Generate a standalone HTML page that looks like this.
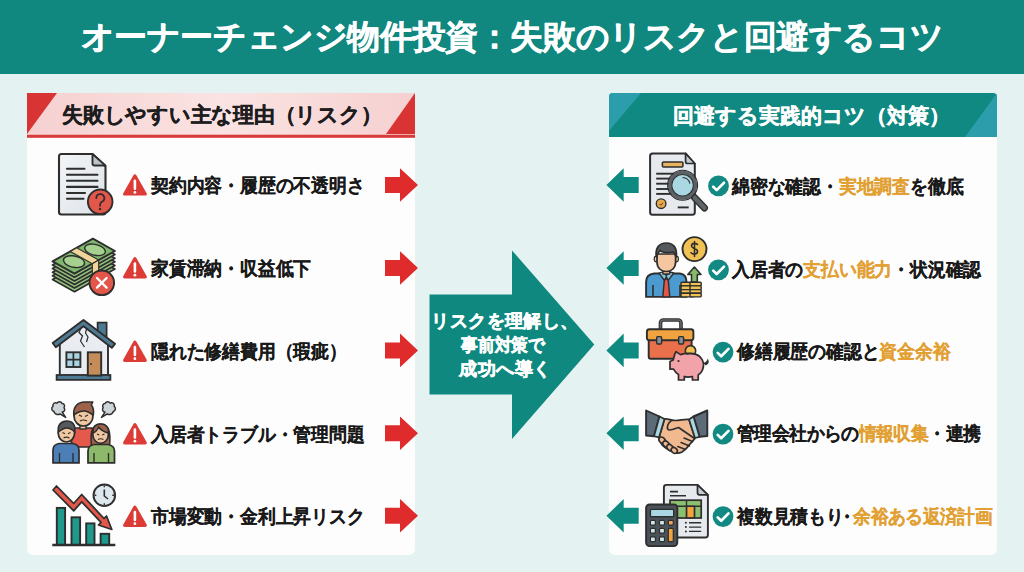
<!DOCTYPE html>
<html><head><meta charset="utf-8">
<style>
*{margin:0;padding:0;box-sizing:border-box}
html,body{width:1024px;height:572px;overflow:hidden}
body{position:relative;background:#e4f2f2;font-family:"Liberation Sans",sans-serif;font-weight:700;color:#191919}
.abs{position:absolute}
#hdr{left:0;top:0;width:1024px;height:73.5px;background:#10877f}
#title{left:0;top:-0.5px;width:1024px;height:74px;line-height:74px;text-align:center;color:#fff;font-size:33px;letter-spacing:-0.4px;white-space:nowrap;-webkit-text-stroke:0.5px #fff}
.card{background:#fdfdfd;border-radius:6px}
.t{position:absolute;white-space:nowrap;font-size:19px;line-height:20px;transform-origin:0 0;transform:scaleX(0.937);-webkit-text-stroke:0.15px currentColor}
.o{color:#e2a032}
</style></head><body>
<div id="hdr" class="abs"></div>
<div id="title" class="abs">オーナーチェンジ物件投資：失敗のリスクと回避するコツ</div>

<div class="abs card" style="left:27px;top:93px;width:388px;height:461.5px"></div>
<div class="abs card" style="left:609px;top:93px;width:388px;height:462px"></div>

<!-- left header -->
<svg class="abs" style="left:27px;top:93px" width="388" height="46">
<defs><linearGradient id="pg" x1="0" x2="1" y1="0" y2="0"><stop offset="0" stop-color="#f6d0d0"/><stop offset="0.5" stop-color="#fbe3e3"/><stop offset="1" stop-color="#f6d0d0"/></linearGradient></defs>
<rect x="0" y="0" width="388" height="41" fill="url(#pg)"/>
<rect x="0" y="41.6" width="388" height="3.2" fill="#d93a3a"/>
<polygon points="0,0 30,0 0,41" fill="#d83434"/>
<polygon points="388,0 388,41 359,41" fill="#d83434"/>
</svg>
<div class="abs" style="left:62px;top:104px;font-size:21px;line-height:22px;white-space:nowrap;letter-spacing:-0.25px;-webkit-text-stroke:0.4px #1e1e1e">失敗しやすい主な理由（リスク）</div>

<!-- right header -->
<svg class="abs" style="left:609px;top:93px" width="388" height="44">
<clipPath id="rc"><rect x="0" y="0" width="388" height="50" rx="4"/></clipPath><g clip-path="url(#rc)"><rect x="0" y="0" width="388" height="44" fill="#0f8981"/>
<polygon points="0,0 32,0 0,38" fill="#2c9daa"/>
<polygon points="388,0 388,44 356,44" fill="#2c9daa"/></g>
</svg>
<div class="abs" style="left:672.5px;top:105px;font-size:21px;line-height:22px;white-space:nowrap;color:#fff;letter-spacing:0px;-webkit-text-stroke:0.5px #fff">回避する実践的コツ（対策）</div>

<!-- center arrow -->
<svg class="abs" style="left:0;top:0" width="1024" height="572">
<polygon points="429.5,294.5 512,294.5 512,250.4 594.3,344.5 512,439 512,394.5 429.5,394.5" fill="#0f8980"/>
</svg>
<div class="abs" style="left:402px;top:308.5px;width:200px;text-align:center;color:#fff;font-size:18px;line-height:24px;white-space:nowrap;-webkit-text-stroke:0.5px #fff"><span style="letter-spacing:0.45px;margin-left:6px">リスクを理解し、</span><br><span style="display:inline-block;transform:scaleX(0.928);margin-left:1px">事前対策で</span><br><span style="letter-spacing:0.5px;margin-left:7px">成功へ導く</span></div>

<svg class="abs" style="left:0;top:0" width="1024" height="572"><polygon points="385,177 400,177 400,168.2 418,185 400,201.8 400,193 385,193" fill="#df2b2b"/><polygon points="606.4,185 623.7,168.2 623.7,177 638.7,177 638.7,193 623.7,193 623.7,201.8" fill="#0f8a81"/><polygon points="385,260 400,260 400,251.2 418,268 400,284.8 400,276 385,276" fill="#df2b2b"/><polygon points="606.4,268 623.7,251.2 623.7,260 638.7,260 638.7,276 623.7,276 623.7,284.8" fill="#0f8a81"/><polygon points="385,342.4 400,342.4 400,333.59999999999997 418,350.4 400,367.2 400,358.4 385,358.4" fill="#df2b2b"/><polygon points="606.4,350.4 623.7,333.59999999999997 623.7,342.4 638.7,342.4 638.7,358.4 623.7,358.4 623.7,367.2" fill="#0f8a81"/><polygon points="385,425.3 400,425.3 400,416.5 418,433.3 400,450.1 400,441.3 385,441.3" fill="#df2b2b"/><polygon points="606.4,433.3 623.7,416.5 623.7,425.3 638.7,425.3 638.7,441.3 623.7,441.3 623.7,450.1" fill="#0f8a81"/><polygon points="385,507.79999999999995 400,507.79999999999995 400,498.99999999999994 418,515.8 400,532.5999999999999 400,523.8 385,523.8" fill="#df2b2b"/><polygon points="606.4,515.8 623.7,498.99999999999994 623.7,507.79999999999995 638.7,507.79999999999995 638.7,523.8 623.7,523.8 623.7,532.5999999999999" fill="#0f8a81"/><path d="M133.3,175.39999999999998 Q134.9,173.2 136.5,175.39999999999998 L146.6,193.2 Q147.5,195.6 145,195.6 L124.9,195.6 Q122.4,195.6 123.3,193.2 Z" fill="#dc3b36"/><path d="M134.9,180.7 V188.7" stroke="#fff" stroke-width="2.6" stroke-linecap="round"/><circle cx="134.9" cy="192.39999999999998" r="1.4" fill="#fff"/><path d="M133.3,258.2 Q134.9,256 136.5,258.2 L146.6,276 Q147.5,278.4 145,278.4 L124.9,278.4 Q122.4,278.4 123.3,276 Z" fill="#dc3b36"/><path d="M134.9,263.5 V271.5" stroke="#fff" stroke-width="2.6" stroke-linecap="round"/><circle cx="134.9" cy="275.2" r="1.4" fill="#fff"/><path d="M133.3,341.7 Q134.9,339.5 136.5,341.7 L146.6,359.5 Q147.5,361.9 145,361.9 L124.9,361.9 Q122.4,361.9 123.3,359.5 Z" fill="#dc3b36"/><path d="M134.9,347.0 V355.0" stroke="#fff" stroke-width="2.6" stroke-linecap="round"/><circle cx="134.9" cy="358.7" r="1.4" fill="#fff"/><path d="M133.3,424.2 Q134.9,422 136.5,424.2 L146.6,442 Q147.5,444.4 145,444.4 L124.9,444.4 Q122.4,444.4 123.3,442 Z" fill="#dc3b36"/><path d="M134.9,429.5 V437.5" stroke="#fff" stroke-width="2.6" stroke-linecap="round"/><circle cx="134.9" cy="441.2" r="1.4" fill="#fff"/><path d="M133.3,506.7 Q134.9,504.5 136.5,506.7 L146.6,524.5 Q147.5,526.9 145,526.9 L124.9,526.9 Q122.4,526.9 123.3,524.5 Z" fill="#dc3b36"/><path d="M134.9,512.0 V520.0" stroke="#fff" stroke-width="2.6" stroke-linecap="round"/><circle cx="134.9" cy="523.7" r="1.4" fill="#fff"/><circle cx="718.5" cy="185.9" r="10.4" fill="#128a83"/><path d="M713.2,186.70000000000002 L716.7,190.1 L724.0,182.70000000000002" fill="none" stroke="#fff" stroke-width="2.7" stroke-linecap="round" stroke-linejoin="round"/><circle cx="718.5" cy="269.8" r="10.4" fill="#128a83"/><path d="M713.2,270.6 L716.7,274.0 L724.0,266.6" fill="none" stroke="#fff" stroke-width="2.7" stroke-linecap="round" stroke-linejoin="round"/><circle cx="723" cy="352.1" r="10.4" fill="#128a83"/><path d="M717.7,352.90000000000003 L721.2,356.3 L728.5,348.90000000000003" fill="none" stroke="#fff" stroke-width="2.7" stroke-linecap="round" stroke-linejoin="round"/><circle cx="723" cy="434.1" r="10.4" fill="#128a83"/><path d="M717.7,434.90000000000003 L721.2,438.3 L728.5,430.90000000000003" fill="none" stroke="#fff" stroke-width="2.7" stroke-linecap="round" stroke-linejoin="round"/><circle cx="723" cy="516.6" r="10.4" fill="#128a83"/><path d="M717.7,517.4 L721.2,520.8000000000001 L728.5,513.4" fill="none" stroke="#fff" stroke-width="2.7" stroke-linecap="round" stroke-linejoin="round"/></svg>
<svg class="abs" style="left:50px;top:148px" width="70" height="70" viewBox="0 0 70 70">
<defs><linearGradient id="dg1" x1="0" y1="0" x2="1" y2="1"><stop offset="0" stop-color="#f3f5f7"/><stop offset="1" stop-color="#dde3e8"/></linearGradient></defs>
<path d="M11.5,6 H42.5 L55.5,18.5 V64 a2.5,2.5 0 0 1 -2.5,2.5 H11.5 a2.5,2.5 0 0 1 -2.5,-2.5 V8.5 a2.5,2.5 0 0 1 2.5,-2.5 Z" fill="url(#dg1)" stroke="#2e2e2e" stroke-width="2.09" stroke-linejoin="round"/>
<path d="M42.5,6 V15.5 a2,2 0 0 0 2,2 H55.5 Z" fill="#b9c3cc" stroke="#2e2e2e" stroke-width="1.91" stroke-linejoin="round"/>
<g stroke="#2e2e2e" stroke-width="2.09" stroke-linecap="round">
<line x1="17" y1="20.8" x2="34.5" y2="20.8"/>
<line x1="17" y1="26.7" x2="47.5" y2="26.7"/>
<line x1="17" y1="32.8" x2="47.5" y2="32.8"/>
<line x1="17" y1="38.9" x2="47.5" y2="38.9"/>
<line x1="17" y1="45" x2="35" y2="45"/>
<line x1="17" y1="50.8" x2="33.5" y2="50.8"/>
</g>
<circle cx="50.2" cy="53.8" r="12.3" fill="#e2574a" stroke="#2e2e2e" stroke-width="1.91"/>
<path d="M46.3,50.2 a4,4 0 1 1 5.6,3.6 c-1.4,0.8 -1.9,1.6 -1.9,3.2 v0.8" fill="none" stroke="#2e2e2e" stroke-width="1.74" stroke-linecap="round"/>
<circle cx="50" cy="61" r="1.2" fill="#2e2e2e"/>
</svg>
<div class="t" style="left:150.6px;top:176.0px">契約内容・履歴の不透明さ</div>
<svg class="abs" style="left:48px;top:232px" width="70" height="70" viewBox="0 0 70 70">
<path d="M4.5,47.4 L44.9,24.7 L66.9,37.0 L26.5,59.7 Z" fill="#93c47e" stroke="#2e2e2e" stroke-width="1.74" stroke-linejoin="round"/><path d="M4.5,43.8 L44.9,21.1 L66.9,33.4 L26.5,56.1 Z" fill="#93c47e" stroke="#2e2e2e" stroke-width="1.74" stroke-linejoin="round"/><path d="M4.5,40.2 L44.9,17.5 L66.9,29.8 L26.5,52.5 Z" fill="#93c47e" stroke="#2e2e2e" stroke-width="1.74" stroke-linejoin="round"/><path d="M4.5,36.6 L44.9,13.9 L66.9,26.2 L26.5,48.900000000000006 Z" fill="#93c47e" stroke="#2e2e2e" stroke-width="1.74" stroke-linejoin="round"/><path d="M4.5,33.0 L44.9,10.3 L66.9,22.6 L26.5,45.300000000000004 Z" fill="#93c47e" stroke="#2e2e2e" stroke-width="1.74" stroke-linejoin="round"/>
<path d="M4.5,29.4 L44.9,6.7 L66.9,19 L26.5,41.7 Z" fill="#7fb76c" stroke="#2e2e2e" stroke-width="1.91" stroke-linejoin="round"/>
<g transform="matrix(0.404,-0.227,0.22,0.123,4.5,29.4)" fill="#a6d08e" stroke="#2e2e2e" stroke-width="1.39" vector-effect="non-scaling-stroke">
<ellipse vector-effect="non-scaling-stroke" cx="26" cy="50" rx="16" ry="38"/>
<ellipse vector-effect="non-scaling-stroke" cx="78" cy="50" rx="15" ry="38"/>
<path vector-effect="non-scaling-stroke" d="M44,0 H60 V100 H44 Z" fill="#f1d49a" stroke-width="1.13"/>
</g>
<path d="M44.3,31.7 L50.7,28.1 L50.7,45 L44.3,48.6 Z" fill="#f1d49a" stroke="#2e2e2e" stroke-width="1.13" stroke-linejoin="round"/>
<circle cx="53.8" cy="50.8" r="12.3" fill="#e2574a" stroke="#2e2e2e" stroke-width="1.91"/>
<path d="M49,46 L58.6,55.6 M58.6,46 L49,55.6" stroke="#fff" stroke-width="2.26" stroke-linecap="round"/>
</svg>
<div class="t" style="left:150.6px;top:259.0px">家賃滞納・収益低下</div>
<svg class="abs" style="left:48px;top:315px" width="70" height="70" viewBox="0 0 70 70">
<rect x="49.6" y="7.6" width="9" height="14" fill="#4d7a92" stroke="#2e2e2e" stroke-width="1.74"/>
<path d="M11.8,27 L35.5,9 L60,27 V60.5 H11.8 Z" fill="#e9edf1" stroke="#2e2e2e" stroke-width="1.91"/>
<path d="M4.7,28 L35.5,4.9 L67,28.8 L63.8,32.8 L35.5,11.3 L7.8,32.2 Z" fill="#4d7a92" stroke="#2e2e2e" stroke-width="1.91" stroke-linejoin="round"/>
<rect x="8.6" y="60" width="53.8" height="4.9" fill="#4d7a92" stroke="#2e2e2e" stroke-width="1.74"/>
<rect x="18.4" y="37.3" width="14" height="14.7" fill="#a9d5e2" stroke="#2e2e2e" stroke-width="1.91"/>
<path d="M25.4,37.3 V52 M18.4,44.6 H32.4" stroke="#2e2e2e" stroke-width="1.74"/>
<rect x="39.8" y="37.3" width="13.4" height="23.3" fill="#c38c58" stroke="#2e2e2e" stroke-width="1.91"/>
<circle cx="43" cy="49" r="1" fill="#2e2e2e"/>
<path d="M33,13 L31,17.5 L34.5,21 L32.5,26 L36.5,32" fill="none" stroke="#2e2e2e" stroke-width="1.22"/>
<path d="M38.5,14 L37.5,18 L40,22 L38.5,27" fill="none" stroke="#2e2e2e" stroke-width="1.22"/>
</svg>
<div class="t" style="left:150.6px;top:342.0px">隠れた修繕費用（瑕疵）</div>
<svg class="abs" style="left:48px;top:398px" width="70" height="70" viewBox="0 0 70 70">
<!-- smoke puffs -->
<path d="M6,13.5 c-2.5,-0.5 -3,-4 -1,-5.2 c-0.8,-2.5 2,-4.5 4,-3.2 c1.2,-2 4.5,-2 5.2,0.5 c2.2,0 3,2.6 1.8,4.2 c1.5,1.5 0.5,4.5 -1.8,4.3 l3.5,5.3 l-5.8,-3.5 c-1.5,1.2 -4.2,0.8 -5.5,-1.2 Z" fill="#cdd5d9" stroke="#2e2e2e" stroke-width="1.48" stroke-linejoin="round"/>
<path d="M6,13.5 c-2.5,-0.5 -3,-4 -1,-5.2 c-0.8,-2.5 2,-4.5 4,-3.2 c1.2,-2 4.5,-2 5.2,0.5 c2.2,0 3,2.6 1.8,4.2 c1.5,1.5 0.5,4.5 -1.8,4.3 l3.5,5.3 l-5.8,-3.5 c-1.5,1.2 -4.2,0.8 -5.5,-1.2 Z" transform="translate(71.2,0) scale(-1,1)" fill="#cdd5d9" stroke="#2e2e2e" stroke-width="1.48" stroke-linejoin="round"/>
<!-- center man -->
<path d="M23.5,49 V35 a4,4 0 0 1 4,-5 H43.5 a4,4 0 0 1 2,5 V49 Z" fill="#e4594b" stroke="#2e2e2e" stroke-width="1.74"/>
<rect x="32" y="25" width="6" height="6" fill="#f1c7a2" stroke="#2e2e2e" stroke-width="1.39"/>
<ellipse cx="35.5" cy="18" rx="9.5" ry="10" fill="#f1c7a2" stroke="#2e2e2e" stroke-width="1.74"/>
<path d="M25.8,17 c-1,-8 4,-13 11,-13 h8 l-1.5,3 c2,2 2.5,6 2,10 c-3,-2 -6,-4 -9,-4 c-4,0 -8,2 -10.5,4 Z" fill="#9d624a" stroke="#2e2e2e" stroke-width="1.57" stroke-linejoin="round"/>
<path d="M31,17 l3,1.5 M40,17 l-3,1.5 M32,23 q3.5,-2 7,0" stroke="#2e2e2e" stroke-width="1.22" fill="none"/>
<!-- left man -->
<path d="M5,64.8 V52 c0,-4 3,-6 6,-6.5 h14 c3,0.5 6,2.5 6,6.5 V64.8 Z" fill="#4c7fb6" stroke="#2e2e2e" stroke-width="1.74"/>
<path d="M11.5,55 V64.8 M25,55 V64.8" stroke="#2e2e2e" stroke-width="1.39"/>
<ellipse cx="18.4" cy="35" rx="8.2" ry="9" fill="#f1c7a2" stroke="#2e2e2e" stroke-width="1.74"/>
<path d="M10.3,34 c-1,-7 3,-11 8.5,-11 c5,0 9,3 8,11 c-2,-2 -5,-4 -8,-4 c-3,0 -6,2 -8.5,4 Z" fill="#55595d" stroke="#2e2e2e" stroke-width="1.57"/>
<path d="M14.5,34.5 l2.5,1.2 M22.5,34.5 l-2.5,1.2 M15.5,40 q3,-1.8 6,0" stroke="#2e2e2e" stroke-width="1.13" fill="none"/>
<!-- right woman -->
<path d="M43.5,48 c-1,-10 -1,-22 9,-22 c10,0 10,12 9,22 Z" fill="#9d624a" stroke="#2e2e2e" stroke-width="1.57"/>
<path d="M40,64.8 V53 c0,-4 3,-6 6,-6.5 h14 c3,0.5 6.5,2.5 6.5,6.5 V64.8 Z" fill="#8cba6a" stroke="#2e2e2e" stroke-width="1.74"/>
<path d="M46,55 V64.8 M60.5,55 V64.8" stroke="#2e2e2e" stroke-width="1.39"/>
<ellipse cx="52.6" cy="36.5" rx="7.8" ry="8.8" fill="#f1c7a2" stroke="#2e2e2e" stroke-width="1.74"/>
<path d="M44.8,35 c0,-6 3,-9 8,-9 c5,0 8,3 7.8,9 c-4,-1 -8,-3 -10,-6 c-1,3 -3,5 -5.8,6 Z" fill="#9d624a" stroke="#2e2e2e" stroke-width="1.39"/>
<path d="M49,36 l2.3,1.1 M56.5,36 l-2.3,1.1 M50,41.5 q2.7,-1.6 5.4,0" stroke="#2e2e2e" stroke-width="1.13" fill="none"/>
</svg>
<div class="t" style="left:150.6px;top:425.0px">入居者トラブル・管理問題</div>
<svg class="abs" style="left:48px;top:480px" width="70" height="70" viewBox="0 0 70 70">
<g fill="#1e9a8c" stroke="#2e2e2e" stroke-width="1.91">
<rect x="8.8" y="27.9" width="8.3" height="37"/>
<rect x="23.5" y="37.3" width="8.6" height="27.6"/>
<rect x="38.2" y="43.4" width="8.3" height="21.5"/>
<rect x="52.6" y="53.8" width="8.6" height="11.1"/>
</g>
<line x1="4.3" y1="65" x2="67.3" y2="65" stroke="#2e2e2e" stroke-width="2.26"/>
<circle cx="56.3" cy="15.3" r="10.8" fill="#dce8ee" stroke="#2e2e2e" stroke-width="1.91"/>
<path d="M56.3,9.5 V16 L60,19" fill="none" stroke="#2e2e2e" stroke-width="1.57"/>
<path d="M56.3,5.5 v1.8 M56.3,23.3 v1.8 M46.5,15.3 h1.8 M64.3,15.3 h1.8" stroke="#2e2e2e" stroke-width="1.39"/>
<path d="M5,10 L8.5,6 L25.7,23.5 L33.7,14.5 L56,38.5 L58.5,36 L63.8,49.5 L50.5,45 L53,42.3 L33.7,21.8 L25.7,30.8 Z" fill="#e2574a" stroke="#2e2e2e" stroke-width="1.74" stroke-linejoin="round"/>
</svg>
<div class="t" style="left:150.6px;top:507.0px">市場変動・金利上昇リスク</div>
<svg class="abs" style="left:644px;top:148px" width="70" height="70" viewBox="0 0 70 70">
<path d="M8.6,5.5 H41.6 L50.8,15.9 V64.2 a2.5,2.5 0 0 1 -2.5,2.5 H8.6 a2.5,2.5 0 0 1 -2.5,-2.5 V8 a2.5,2.5 0 0 1 2.5,-2.5 Z" fill="#e6eaee" stroke="#2e2e2e" stroke-width="2.00" stroke-linejoin="round"/>
<path d="M41.6,5.5 V13.5 a2,2 0 0 0 2,2 H50.8 Z" fill="#c4ccd3" stroke="#2e2e2e" stroke-width="1.74" stroke-linejoin="round"/>
<rect x="18.4" y="14" width="20.5" height="5" rx="1" fill="#e9b462" stroke="#2e2e2e" stroke-width="1.57"/>
<g stroke="#2e2e2e" stroke-width="1.91">
<line x1="12.2" y1="25.7" x2="30" y2="25.7"/>
<line x1="12.2" y1="30.6" x2="26" y2="30.6"/>
<line x1="12.2" y1="35.7" x2="25" y2="35.7"/>
<line x1="12.2" y1="41" x2="26" y2="41"/>
<line x1="12.2" y1="45.9" x2="28" y2="45.9"/>
<line x1="33.7" y1="59.4" x2="44.7" y2="59.4"/>
</g>
<circle cx="17.1" cy="55.7" r="4.8" fill="#e9a94a" stroke="#2e2e2e" stroke-width="1.39"/>
<path d="M15.5,56 l1.2,1.2 l2.2,-2.4" stroke="#2e2e2e" stroke-width="0.87" fill="none"/>
<line x1="50.5" y1="49.5" x2="60.5" y2="60" stroke="#2e2e2e" stroke-width="6.96" stroke-linecap="round"/>
<line x1="50.5" y1="49.5" x2="60.5" y2="60" stroke="#5f6468" stroke-width="4.35" stroke-linecap="round"/>
<circle cx="38.6" cy="37.3" r="12.8" fill="#a9d8e2" stroke="#5c6166" stroke-width="3.48"/>
<circle cx="38.6" cy="37.3" r="15" fill="none" stroke="#2e2e2e" stroke-width="1.13"/>
<circle cx="38.6" cy="37.3" r="10.8" fill="none" stroke="#2e2e2e" stroke-width="1.04"/>
<path d="M38.5,29.5 a8,8 0 0 1 7.5,6" fill="none" stroke="#2e2e2e" stroke-width="1.13"/>
</svg>
<div class="t" style="left:732.3px;top:177.0px">綿密な確認・<span class="o">実地調査</span>を徹底</div>
<svg class="abs" style="left:640px;top:232px" width="70" height="70" viewBox="0 0 70 70">
<path d="M6.1,64.9 V50 c0,-5 3,-8 8,-8.5 L20,41.5 H33 L40,41.5 c4,0.5 6.5,3.5 6.5,8.5 V64.9 Z" fill="#4b9ad0" stroke="#2e2e2e" stroke-width="1.91"/>
<path d="M13,53 V64.9 M40,53 V64.9" stroke="#2e2e2e" stroke-width="1.57"/>
<path d="M19,41 L24.5,48.5 L26.3,44.5 L28.1,48.5 L33.8,41 L30,40 L26.3,43.5 L22.5,40 Z" fill="#86c7e2" stroke="#2e2e2e" stroke-width="1.30" stroke-linejoin="round"/>
<path d="M26.3,46 l-2,2.5 l-1.5,16.4 h7 l-1.5,-16.4 Z" fill="#e2574a" stroke="#2e2e2e" stroke-width="1.39" stroke-linejoin="round"/>
<rect x="23" y="35" width="6.6" height="7" fill="#f4c7a0" stroke="#2e2e2e" stroke-width="1.39"/>
<ellipse cx="16.2" cy="27" rx="2" ry="2.8" fill="#f4c7a0" stroke="#2e2e2e" stroke-width="1.22"/>
<ellipse cx="36.4" cy="27" rx="2" ry="2.8" fill="#f4c7a0" stroke="#2e2e2e" stroke-width="1.22"/>
<path d="M17,22 V30 c0,6 4,9.5 9.3,9.5 c5.3,0 9.3,-3.5 9.3,-9.5 V22 Z" fill="#f4c7a0" stroke="#2e2e2e" stroke-width="1.74"/>
<path d="M16.5,25 c-2,-9 3,-14 9.8,-14 c7,0 11.5,5 9.8,14 c-1,-3 -2,-4.5 -3,-5 c-4,1 -11,1 -13,-1.5 c-1.5,1.5 -2.8,3.5 -3.6,6.5 Z" fill="#56595c" stroke="#2e2e2e" stroke-width="1.74" stroke-linejoin="round"/>
<circle cx="54.5" cy="17.1" r="12" fill="#f1c153" stroke="#2e2e2e" stroke-width="1.91"/>
<path d="M57.5,12.5 c-1,-1.5 -6,-2 -6,1.5 c0,3 6,2 6,5.5 c0,3.5 -5.5,3 -6.5,1.2 M54.5,9.5 v15" fill="none" stroke="#2e2e2e" stroke-width="1.57" stroke-linecap="round"/>
<path d="M54.4,35 L61,42.5 H57.3 V50 H51.5 V42.5 H47.8 Z" fill="#84bb6c" stroke="#2e2e2e" stroke-width="1.57" stroke-linejoin="round"/>
<g fill="#f1c153" stroke="#2e2e2e" stroke-width="1.39">
<rect x="41" y="50.2" width="13" height="3.7" rx="1"/>
<rect x="41" y="53.9" width="13" height="3.7" rx="1"/>
<rect x="41" y="57.6" width="13" height="3.7" rx="1"/>
<rect x="41" y="61.3" width="13" height="3.6" rx="1"/>
<rect x="50" y="50.2" width="11.2" height="3.7" rx="1"/>
<rect x="50" y="53.9" width="11.2" height="3.7" rx="1"/>
<rect x="50" y="57.6" width="11.2" height="3.7" rx="1"/>
<rect x="50" y="61.3" width="11.2" height="3.6" rx="1"/>
</g>
</svg>
<div class="t" style="left:732.3px;top:260.0px">入居者の<span class="o">支払い能力</span>・状況確認</div>
<svg class="abs" style="left:642px;top:314px" width="70" height="70" viewBox="0 0 70 70">
<path d="M18.5,15.5 V9 a3,3 0 0 1 3,-3 H36 a3,3 0 0 1 3,3 V15.5" fill="none" stroke="#2e2e2e" stroke-width="3.65"/>
<path d="M18.5,15.5 V9 a3,3 0 0 1 3,-3 H36 a3,3 0 0 1 3,3 V15.5" fill="none" stroke="#62666a" stroke-width="1.57"/>
<rect x="6.7" y="25" width="42.9" height="19.7" rx="2" fill="#e9704b" stroke="#2e2e2e" stroke-width="1.91"/>
<rect x="4.9" y="15.3" width="46.5" height="11" rx="2.5" fill="#f0a33e" stroke="#2e2e2e" stroke-width="1.91"/>
<rect x="14.7" y="22.6" width="4.9" height="7.4" rx="1" fill="#8a8f94" stroke="#2e2e2e" stroke-width="1.39"/>
<rect x="36.7" y="22.6" width="4.9" height="7.4" rx="1" fill="#8a8f94" stroke="#2e2e2e" stroke-width="1.39"/>
<path d="M61,50 c2,-0.5 4,-1.2 4.8,-3.5 c0.6,1.5 0,3.5 -2.2,4" fill="none" stroke="#2e2e2e" stroke-width="1.39" stroke-linecap="round"/>
<circle cx="48.5" cy="36.8" r="5.2" fill="#f1c153" stroke="#2e2e2e" stroke-width="1.57"/>
<path d="M28,47.5 L31.2,46 L32.8,40 L34,37.6 L38.5,40.6 C44,38.5 55,38.5 59,44 C61.5,47 62,52 60.5,56 C59.5,58.5 58,60 56.2,61 V66 H50.4 V62.5 C47,63.2 44.5,63.2 42.3,62.5 V66 H36.5 V60.5 C34,59 32.5,57 31.5,55.2 H28 Z" fill="#f2a2a9" stroke="#2e2e2e" stroke-width="1.74" stroke-linejoin="round"/>
<path d="M44,40.2 C46,39.5 51,39.5 53,40.2" fill="none" stroke="#2e2e2e" stroke-width="1.30"/>
<circle cx="36.5" cy="47" r="1.1" fill="#2e2e2e"/>
</svg>
<div class="t" style="left:737.3px;top:342.0px">修繕履歴の確認と<span class="o">資金余裕</span></div>
<svg class="abs" style="left:640px;top:397px" width="70" height="70" viewBox="0 0 70 70">
<path d="M6.1,13.5 L19.5,19.5 L14,39.2 L6.1,38.5 Z" fill="#5b6b78" stroke="#2e2e2e" stroke-width="1.91" stroke-linejoin="round"/>
<path d="M67.3,13.5 L53.5,19.5 L59.5,39.8 L67.3,39 Z" fill="#5b6b78" stroke="#2e2e2e" stroke-width="1.91" stroke-linejoin="round"/>
<path d="M24.5,22 C28,21.5 31,23.5 35,23.5 C40,23.5 45,22 49,22.5 L55,41 C54,43 52,45 50,47 C48,50 45,53 42,55 C39,56.5 36,56.5 33,55 C30,54 27,52 24.5,50 C21.5,48 19.5,45 19,40.5 Z" fill="#f1b98f" stroke="#2e2e2e" stroke-width="1.74" stroke-linejoin="round"/>
<path d="M19.5,19.5 L24.5,22 L19,40.5 L14,39.2 Z" fill="#a9d8e2" stroke="#2e2e2e" stroke-width="1.74" stroke-linejoin="round"/>
<path d="M53.5,19.5 L49,22.5 L55,41 L59.5,39.8 Z" fill="#a9d8e2" stroke="#2e2e2e" stroke-width="1.74" stroke-linejoin="round"/>
<path d="M31,24 C28,26 26.5,30 28,32.5 C29.5,34 33,32.5 38.6,30.5 L53.5,40.8" fill="#f1b98f" stroke="#2e2e2e" stroke-width="1.65" stroke-linecap="round" stroke-linejoin="round"/>
<path d="M44,41 L52.5,44.5 M41,45.5 L49.5,49 M37.8,49.5 L45.5,52.5" fill="none" stroke="#2e2e2e" stroke-width="1.48" stroke-linecap="round"/>
<g fill="#f1b98f" stroke="#2e2e2e" stroke-width="1.57">
<ellipse cx="22.1" cy="43.2" rx="3.5" ry="2.7" transform="rotate(40 22.1 43.2)"/>
<ellipse cx="26" cy="47.1" rx="3.5" ry="2.7" transform="rotate(40 26 47.1)"/>
<ellipse cx="30" cy="50.6" rx="3.5" ry="2.7" transform="rotate(40 30 50.6)"/>
<ellipse cx="34.2" cy="53.4" rx="3.3" ry="2.6" transform="rotate(40 34.2 53.4)"/>
</g>
</svg>
<div class="t" style="left:737.3px;top:423.5px"><span style="letter-spacing:-0.45px">管理会社からの<span class="o">情報収集</span>・連携</span></div>
<svg class="abs" style="left:640px;top:480px" width="70" height="70" viewBox="0 0 70 70">
<path d="M26.4,4.9 H57.5 L67.9,15.3 V55 a2.5,2.5 0 0 1 -2.5,2.5 H26.4 a2.5,2.5 0 0 1 -2.5,-2.5 V7.4 a2.5,2.5 0 0 1 2.5,-2.5 Z" fill="#e6eaee" stroke="#2e2e2e" stroke-width="1.91" stroke-linejoin="round"/>
<path d="M57.5,4.9 V12.8 a2,2 0 0 0 2,2 H67.9 Z" fill="#c4ccd3" stroke="#2e2e2e" stroke-width="1.74" stroke-linejoin="round"/>
<path d="M30,11.6 H38 M30,15.7 H46" stroke="#2e2e2e" stroke-width="1.57"/>
<rect x="30" y="20.2" width="31.2" height="17.8" fill="#8cc070" stroke="#2e2e2e" stroke-width="1.74"/>
<rect x="46.5" y="26.3" width="8" height="11.5" fill="#f0a33e" stroke="#2e2e2e" stroke-width="1.39"/>
<path d="M30,26.3 H61.2 M46.5,20.2 V38 M54.5,26.3 V38" stroke="#2e2e2e" stroke-width="1.39"/>
<g stroke="#2e2e2e" stroke-width="1.39"><path d="M49,42.8 H61.2 M49,47.1 H61.2 M49,51.4 H61.2"/></g>
<g fill="#2e2e2e"><circle cx="45.9" cy="42.8" r="1"/><circle cx="45.9" cy="47.1" r="1"/><circle cx="45.9" cy="51.4" r="1"/></g>
<rect x="6.1" y="24.5" width="31.2" height="41.6" rx="3.5" fill="#4c5259" stroke="#2e2e2e" stroke-width="1.91"/>
<rect x="10.4" y="29.4" width="23.3" height="7.3" rx="1" fill="#a9d8e2" stroke="#2e2e2e" stroke-width="1.39"/>
<g stroke="#2e2e2e" stroke-width="1.22">
<rect x="10.4" y="40.3" width="5" height="4.8" rx="1" fill="#cfe6e6"/>
<rect x="19.5" y="40.3" width="5" height="4.8" rx="1" fill="#cfe6e6"/>
<rect x="28.3" y="40.3" width="5" height="4.8" rx="1" fill="#f0a35a"/>
<rect x="10.4" y="48.3" width="5" height="4.8" rx="1" fill="#cfe6e6"/>
<rect x="19.5" y="48.3" width="5" height="4.8" rx="1" fill="#cfe6e6"/>
<rect x="10.4" y="56.9" width="5" height="4.8" rx="1" fill="#cfe6e6"/>
<rect x="19.5" y="56.9" width="5" height="4.8" rx="1" fill="#cfe6e6"/>
<rect x="28.3" y="48.3" width="5" height="13.4" rx="1" fill="#f0a33e"/>
</g>
</svg>
<div class="t" style="left:736.7px;top:507.0px">複数見積もり<span style="margin-left:-6.5px;margin-right:-2.5px">・</span><span class="o" style="letter-spacing:-0.45px">余裕ある返済計画</span></div>

</body></html>
